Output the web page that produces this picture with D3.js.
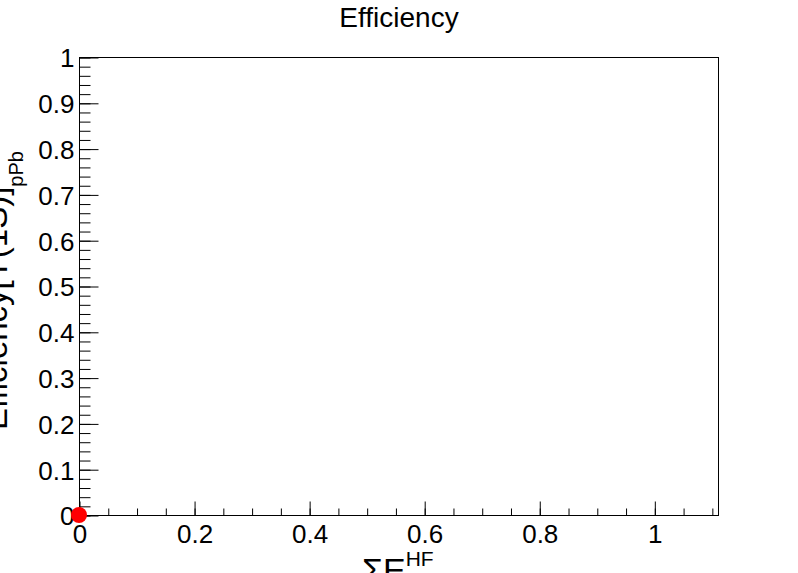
<!DOCTYPE html>
<html>
<head>
<meta charset="utf-8">
<script src="https://cdn.jsdelivr.net/npm/d3@7"></script>
<style>
  html, body { margin: 0; padding: 0; background: #ffffff; }
  svg { display: block; }
  text { font-family: "Liberation Sans", Arial, Helvetica, sans-serif; fill: #000; }
</style>
</head>
<body>
<svg id="chart" width="798" height="573"></svg>
<script>
// ---- data ----
const xValues = [0];
const yValues = [0];
const xMajorTicks = [0, 0.2, 0.4, 0.6, 0.8, 1];
const xTickLabels = ["0", "0.2", "0.4", "0.6", "0.8", "1"];
const yMajorTicks = [0, 0.1, 0.2, 0.3, 0.4, 0.5, 0.6, 0.7, 0.8, 0.9, 1];
const yTickLabels = ["0", "0.1", "0.2", "0.3", "0.4", "0.5", "0.6", "0.7", "0.8", "0.9", "1"];
const xMinorTicks = d3.range(0, 23).map(i => +(i * 0.05).toFixed(2));
const yMinorTicks = d3.range(0, 51).map(i => +(i * 0.02).toFixed(2));
const titleText = "Efficiency";

// ---- layout ----
const W = 798, H = 573;
const mLeft = 79, mRight = 718, mTop = 57, mBottom = 515;

const svg = d3.select("#chart");
const x = d3.scaleLinear().domain([0, 1.1107]).range([mLeft, mRight]);
const y = d3.scaleLinear().domain([0, 1]).range([mBottom, mTop]);

// frame
svg.append("rect")
  .attr("x", mLeft + 0.5).attr("y", mTop + 0.5)
  .attr("width", mRight - mLeft).attr("height", mBottom - mTop)
  .attr("fill", "none").attr("stroke", "#000").attr("stroke-width", 1);

// x minor ticks
svg.append("g").attr("transform", `translate(0.5,${mBottom + 0.5})`)
  .call(d3.axisBottom(x).tickValues(xMinorTicks).tickSizeInner(-7).tickSizeOuter(0).tickFormat(""));
// x major ticks
svg.append("g").attr("transform", `translate(0.5,${mBottom + 0.5})`)
  .call(d3.axisBottom(x).tickValues(xMajorTicks).tickSizeInner(-14).tickSizeOuter(0).tickPadding(9)
    .tickFormat((d, i) => xTickLabels[i]));

// y minor ticks
svg.append("g").attr("transform", `translate(${mLeft + 0.5},0.5)`)
  .call(d3.axisLeft(y).tickValues(yMinorTicks).tickSizeInner(-11).tickSizeOuter(0).tickFormat(""));
// y major ticks
const gyMajor = svg.append("g").attr("transform", `translate(${mLeft + 0.5},0.5)`)
  .call(d3.axisLeft(y).tickValues(yMajorTicks).tickSizeInner(-19).tickSizeOuter(0).tickPadding(5)
    .tickFormat((d, i) => yTickLabels[i]));

svg.selectAll(".domain").remove();
svg.selectAll(".tick line").attr("stroke", "#000").attr("stroke-width", 1);
svg.selectAll(".tick text")
  .style("font-family", '"Liberation Sans", Arial, Helvetica, sans-serif')
  .style("font-size", "26px").attr("fill", "#000");
gyMajor.selectAll(".tick text").attr("dy", "0.36em");

// title
svg.append("text")
  .attr("x", 399).attr("y", 27)
  .attr("text-anchor", "middle")
  .style("font-size", "28px")
  .text(titleText);

// y axis title
const yt = svg.append("text")
  .attr("transform", "translate(7,430) rotate(-90)")
  .attr("text-anchor", "start")
  .style("font-size", "33px");
yt.append("tspan").text("Efficiency[\u03A5(1S)]");
yt.append("tspan").attr("dy", 16).style("font-size", "20px").text("pPb");

// x axis title
const xt = svg.append("text")
  .attr("x", 362).attr("y", 582)
  .attr("text-anchor", "start")
  .style("font-size", "34px");
xt.append("tspan").text("\u03A3E");
xt.append("tspan").attr("dy", -16).style("font-size", "21px").text("HF");

// data points
svg.append("g").selectAll("circle")
  .data(xValues.map((v, i) => ({ x: v, y: yValues[i] })))
  .join("circle")
  .attr("cx", d => x(d.x))
  .attr("cy", d => y(d.y))
  .attr("r", 8)
  .attr("fill", "#ff0000");
</script>
</body>
</html>
